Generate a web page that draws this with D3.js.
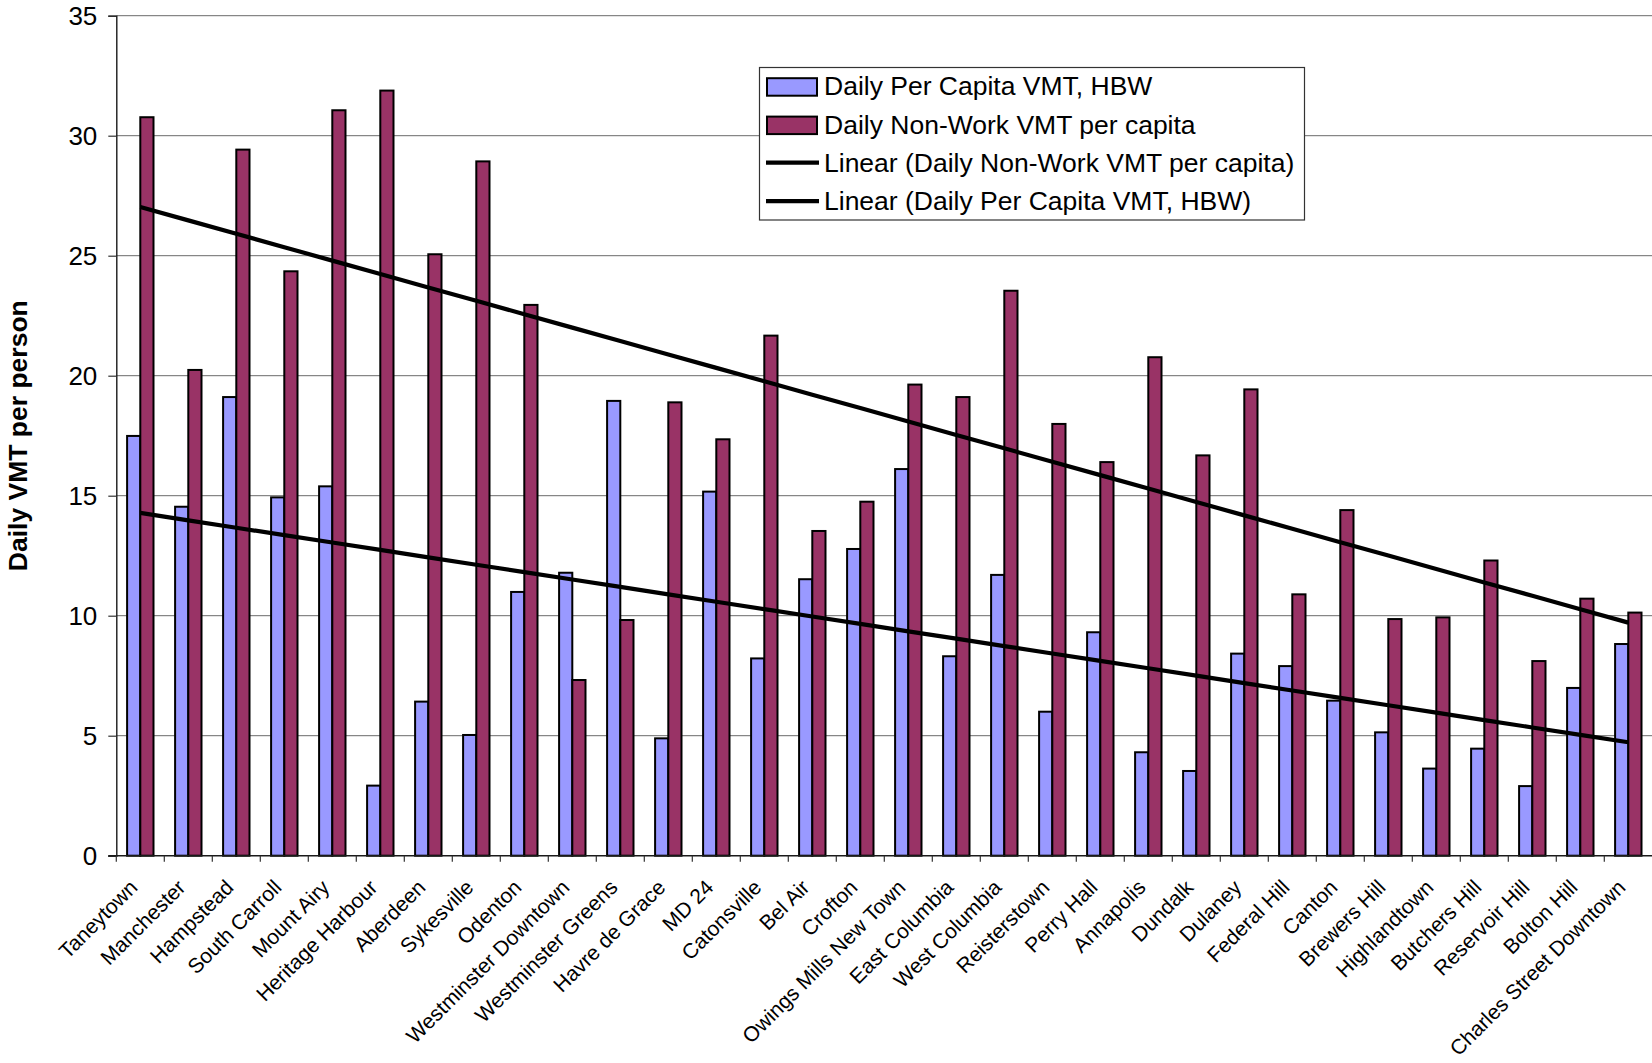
<!DOCTYPE html>
<html>
<head>
<meta charset="utf-8">
<script src="https://cdn.jsdelivr.net/npm/d3@7"></script>
<style>
  html, body { margin: 0; padding: 0; background: #fff; }
  svg { display: block; }
  text { font-family: "Liberation Sans", Arial, Helvetica, sans-serif; fill: #000; }
</style>
</head>
<body>
<svg id="chart" width="1652" height="1063"></svg>
<script>
// Communities, in the order they appear along the axis
const categories = [
  "Taneytown", "Manchester", "Hampstead", "South Carroll", "Mount Airy",
  "Heritage Harbour", "Aberdeen", "Sykesville", "Odenton", "Westminster Downtown",
  "Westminster Greens", "Havre de Grace", "MD 24", "Catonsville", "Bel Air",
  "Crofton", "Owings Mills New Town", "East Columbia", "West Columbia", "Reisterstown",
  "Perry Hall", "Annapolis", "Dundalk", "Dulaney", "Federal Hill",
  "Canton", "Brewers Hill", "Highlandtown", "Butchers Hill", "Reservoir Hill",
  "Bolton Hill", "Charles Street Downtown"
];

// Daily per capita VMT, home-based work trips
const hbwValues = [
  17.49, 14.54, 19.11, 14.93, 15.39, 2.92, 6.42, 5.03, 10.99, 11.79,
  18.95, 4.89, 15.17, 8.22, 11.52, 12.78, 16.11, 8.31, 11.70, 6.00,
  9.31, 4.31, 3.53, 8.42, 7.90, 6.46, 5.14, 3.63, 4.46, 2.90,
  6.99, 8.82
];

// Daily non-work VMT per capita
const nonWorkValues = [
  30.77, 20.24, 29.42, 24.35, 31.06, 31.88, 25.06, 28.93, 22.95, 7.32,
  9.82, 18.89, 17.35, 21.67, 13.53, 14.75, 19.63, 19.11, 23.54, 17.99,
  16.40, 20.77, 16.68, 19.43, 10.89, 14.40, 9.86, 9.93, 12.30, 8.11,
  10.71, 10.13
];

const yTicks = [0, 5, 10, 15, 20, 25, 30, 35];

const seriesNames = ["Daily Per Capita VMT, HBW", "Daily Non-Work VMT per capita"];
const trendNames = ["Linear (Daily Non-Work VMT per capita)", "Linear (Daily Per Capita VMT, HBW)"];
const yTitle = "Daily VMT per person";

const colors = { hbw: "#9999FF", nonWork: "#993366" };

const svg = d3.select("#chart");

const plot = { left: 116.3, right: 1652.3, top: 15.7, bottom: 855.7 };

const x = d3.scaleBand()
  .domain(categories)
  .range([plot.left, plot.right])
  .padding(0);

const y = d3.scaleLinear()
  .domain([0, 35])
  .range([plot.bottom, plot.top]);

const groupWidth = 26.4;
const x1 = d3.scaleBand()
  .domain(["hbw", "nonWork"])
  .range([x.bandwidth() / 2 - groupWidth / 2, x.bandwidth() / 2 + groupWidth / 2])
  .padding(0);

// Horizontal gridlines
svg.append("g")
  .selectAll("line")
  .data(yTicks.filter(t => t > 0))
  .join("line")
  .attr("x1", plot.left)
  .attr("x2", plot.right)
  .attr("y1", d => y(d))
  .attr("y2", d => y(d))
  .attr("stroke", "#6a6a6a")
  .attr("stroke-width", 1);

// Y axis
const yAxis = d3.axisLeft(y)
  .tickValues(yTicks)
  .tickSize(8)
  .tickPadding(11)
  .tickFormat(d3.format("d"));

const gy = svg.append("g")
  .attr("transform", `translate(${plot.left},0)`)
  .call(yAxis);
gy.select(".domain").attr("stroke", "#1a1a1a").attr("stroke-width", 1.4);
gy.selectAll(".tick line").attr("stroke", "#333").attr("stroke-width", 1.2);
gy.selectAll(".tick text")
  .attr("font-size", 26)
  .attr("font-family", "'Liberation Sans', Arial, sans-serif")
  .attr("fill", "#000");

// Bars
const rows = categories.map((c, i) => ({ cat: c, hbw: hbwValues[i], nonWork: nonWorkValues[i] }));

const groups = svg.append("g")
  .selectAll("g")
  .data(rows)
  .join("g")
  .attr("transform", d => `translate(${x(d.cat)},0)`);

groups.selectAll("rect")
  .data(d => ["hbw", "nonWork"].map(k => ({ key: k, value: d[k] })))
  .join("rect")
  .attr("x", d => x1(d.key))
  .attr("width", x1.bandwidth())
  .attr("y", d => y(d.value))
  .attr("height", d => y(0) - y(d.value))
  .attr("fill", d => colors[d.key])
  .attr("stroke", "#000")
  .attr("stroke-width", 2);

// X axis (category boundaries as tick marks)
svg.append("line")
  .attr("x1", plot.left - 8).attr("x2", plot.right)
  .attr("y1", y(0)).attr("y2", y(0))
  .attr("stroke", "#1a1a1a").attr("stroke-width", 1.4);

svg.append("g")
  .selectAll("line")
  .data(categories)
  .join("line")
  .attr("x1", d => x(d)).attr("x2", d => x(d))
  .attr("y1", y(0)).attr("y2", y(0) + 6)
  .attr("stroke", "#333").attr("stroke-width", 1.2);

// Category labels, rotated
svg.append("g")
  .selectAll("text")
  .data(categories)
  .join("text")
  .attr("text-anchor", "end")
  .attr("font-size", 21)
  .attr("transform", d => `translate(${x(d) + x.bandwidth() / 2 - 1.5},${y(0) + 33}) rotate(-45)`)
  .text(d => d);

// Least-squares trend over category index
function linearFit(values) {
  const n = values.length;
  const xs = d3.range(n);
  const mx = d3.mean(xs), my = d3.mean(values);
  let sxy = 0, sxx = 0;
  xs.forEach((xi, i) => { sxy += (xi - mx) * (values[i] - my); sxx += (xi - mx) * (xi - mx); });
  const slope = sxy / sxx;
  const intercept = my - slope * mx;
  return xs.map(xi => intercept + slope * xi);
}

const line = d3.line()
  .x((d, i) => x(categories[i]) + x.bandwidth() / 2)
  .y(d => y(d));

[nonWorkValues, hbwValues].forEach(vals => {
  svg.append("path")
    .datum(linearFit(vals))
    .attr("d", line)
    .attr("fill", "none")
    .attr("stroke", "#000")
    .attr("stroke-width", 4.2);
});

// Y axis title
svg.append("text")
  .attr("transform", `translate(26.5,${(plot.top + plot.bottom) / 2}) rotate(-90)`)
  .attr("text-anchor", "middle")
  .attr("font-size", 26.5)
  .attr("font-weight", "bold")
  .text(yTitle);

// Legend
const legend = svg.append("g");
legend.append("rect")
  .attr("x", 759.5).attr("y", 67.5)
  .attr("width", 545).attr("height", 152.5)
  .attr("fill", "#fff")
  .attr("stroke", "#333")
  .attr("stroke-width", 1.2);

const rowBase = [95.2, 133.6, 172, 210.4];
const legendItems = [
  { label: seriesNames[0], type: "rect", color: colors.hbw },
  { label: seriesNames[1], type: "rect", color: colors.nonWork },
  { label: trendNames[0], type: "line" },
  { label: trendNames[1], type: "line" }
];

legendItems.forEach((item, i) => {
  const base = rowBase[i];
  if (item.type === "rect") {
    legend.append("rect")
      .attr("x", 767).attr("y", base - 17)
      .attr("width", 50).attr("height", 17.5)
      .attr("fill", item.color)
      .attr("stroke", "#000")
      .attr("stroke-width", 2);
  } else {
    legend.append("line")
      .attr("x1", 766).attr("x2", 819)
      .attr("y1", base - 9.3).attr("y2", base - 9.3)
      .attr("stroke", "#000")
      .attr("stroke-width", 4.2);
  }
  legend.append("text")
    .attr("x", 824)
    .attr("y", base)
    .attr("font-size", 26.5)
    .text(item.label);
});
</script>
</body>
</html>
